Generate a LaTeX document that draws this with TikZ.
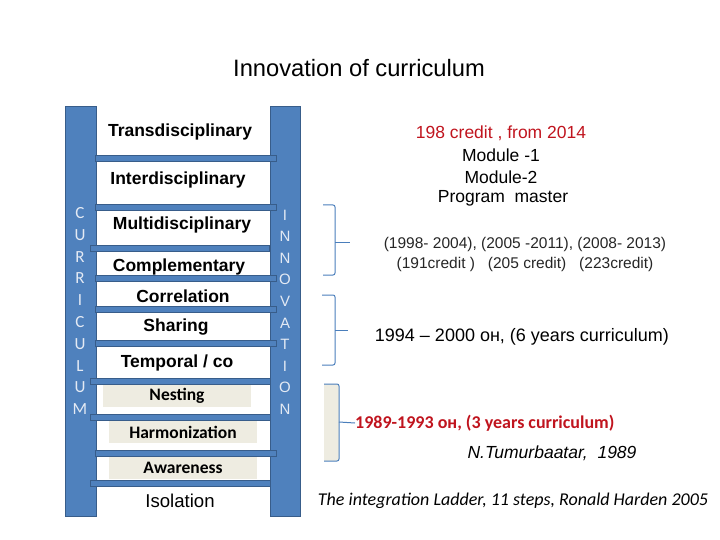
\documentclass[tikz,border=0pt]{standalone}
\usepackage{fontspec}
\setmainfont{Liberation Sans}
\newfontfamily\calfont{Carlito}
\definecolor{railblue}{RGB}{79,129,189}
\definecolor{railedge}{RGB}{56,93,138}
\definecolor{beigec}{RGB}{238,236,225}
\definecolor{darkredc}{RGB}{192,20,30}
\definecolor{bracketc}{RGB}{74,126,187}
\definecolor{railtext}{RGB}{228,234,244}
\begin{document}
\begin{tikzpicture}[x=1pt,y=-1pt,
  rail/.style={fill=railblue,draw=railedge,line width=1pt},
  rung/.style={fill=railblue,draw=railedge,line width=0.8pt},
  steplabel/.style={font=\fontsize{17.5}{20}\selectfont\bfseries,inner sep=0pt},
  beigebox/.style={fill=beigec,minimum width=148pt,minimum height=22pt,inner sep=0pt,font=\calfont\fontsize{17.5}{20}\selectfont\bfseries},
  leftletter/.style={text=railtext,font=\calfont\fontsize{17}{19}\selectfont,inner sep=0pt},
  rightletter/.style={text=railtext,font=\fontsize{15}{17}\selectfont,inner sep=0pt},
  rtext/.style={font=\fontsize{17.5}{20}\selectfont,inner sep=0pt},
  bracket/.style={draw=bracketc,line width=1pt,rounded corners=2pt},
]
\useasboundingbox (0,0) rectangle (720,540);

% title
\node[font=\fontsize{23.7}{28}\selectfont,inner sep=0pt] (title) at (359,68) {Innovation of curriculum};

% rails
\draw[rail] (65,107) rectangle (96,516);
\draw[rail] (270,107) rectangle (300,516);

% rungs
\foreach \yy/\xa/\xb in {158/95/276,207/95/276,248/90/269,278/95/276,309/95/276,343/95/276,381/90/270,417/90/270,453/95/276,483/90/270}
  \draw[rung] (\xa,\yy-3) rectangle (\xb,\yy+3);

% rail letters
\foreach \ch [count=\i] in {C,U,R,R,I,C,U,L,U,M}
  \node[leftletter] (cl\i) at (80,{213+21.8*(\i-1)}) {\ch};
\foreach \ch [count=\i] in {I,N,N,O,V,A,T,I,O,N}
  \node[rightletter] (rl\i) at (285,{215+21.6*(\i-1)}) {\ch};

% step labels
\node[steplabel] (s11) at (180,132) {Transdisciplinary};
\node[steplabel] (s10) at (178,180) {Interdisciplinary};
\node[steplabel] (s9) at (182,225) {Multidisciplinary};
\node[steplabel] (s8) at (179,267) {Complementary};
\node[steplabel] (s7) at (183,296) {Correlation};
\node[steplabel] (s6) at (176,327) {Sharing};
\node[steplabel] (s5) at (177,363) {Temporal / co};
\node[beigebox] (s4) at (177,396) {Nesting};
\node[beigebox] (s3) at (183,432) {Harmonization};
\node[beigebox] (s2) at (183,468) {Awareness};
\node[font=\fontsize{18.6}{21}\selectfont,inner sep=0pt] (s1) at (180,501) {Isolation};

% right texts
\node[rtext,text=darkredc] (r1) at (501,133) {198 credit , from 2014};
\node[rtext] (r2) at (501,155) {Module -1};
\node[rtext] (r3) at (501,177) {Module-2};
\node[rtext] (r4) at (503,198) {Program\ \ master};
\node[font=\fontsize{15.5}{18}\selectfont,inner sep=0pt,align=center,text=black!85] (r5) at (525,254)
  {(1998- 2004), (2005 -2011), (2008- 2013)\\[2pt](191credit )\ \ \ (205 credit)\ \ \ (223credit)};
\node[font=\fontsize{18}{21}\selectfont,inner sep=0pt] (r6) at (522,337) {1994 -- 2000 он, (6 years curriculum)};
\node[font=\calfont\fontsize{18}{21}\selectfont\bfseries,text=darkredc,inner sep=0pt,anchor=west] (r7) at (355,423) {1989-1993 он, (3 years curriculum)};
\node[font=\fontsize{17.5}{20}\selectfont\itshape,inner sep=0pt] (r8) at (552,453) {N.Tumurbaatar,\ \ 1989};
\node[font=\calfont\fontsize{18}{21}\selectfont\itshape,inner sep=0pt] (r9) at (513,501) {The integration Ladder, 11 steps, Ronald Harden 2005};

% brackets
\draw[bracket] (323,205) -- (335,205) -- (335,275) -- (323,275);
\coordinate (b1) at (335,242);
\draw[bracket] (b1) -- (350,242);
\draw[bracket] (322,295) -- (335,295) -- (335,365) -- (322,365);
\coordinate (b2) at (335,330);
\draw[bracket] (b2) -- (348,330);
\fill[beigec] (324,384) rectangle (339,461);
\draw[bracket] (324,384) -- (339,384) -- (339,461) -- (324,461);
\coordinate (b3) at (339,422);
\draw[bracket] (b3) -- (r7.west);
\end{tikzpicture}
\end{document}
